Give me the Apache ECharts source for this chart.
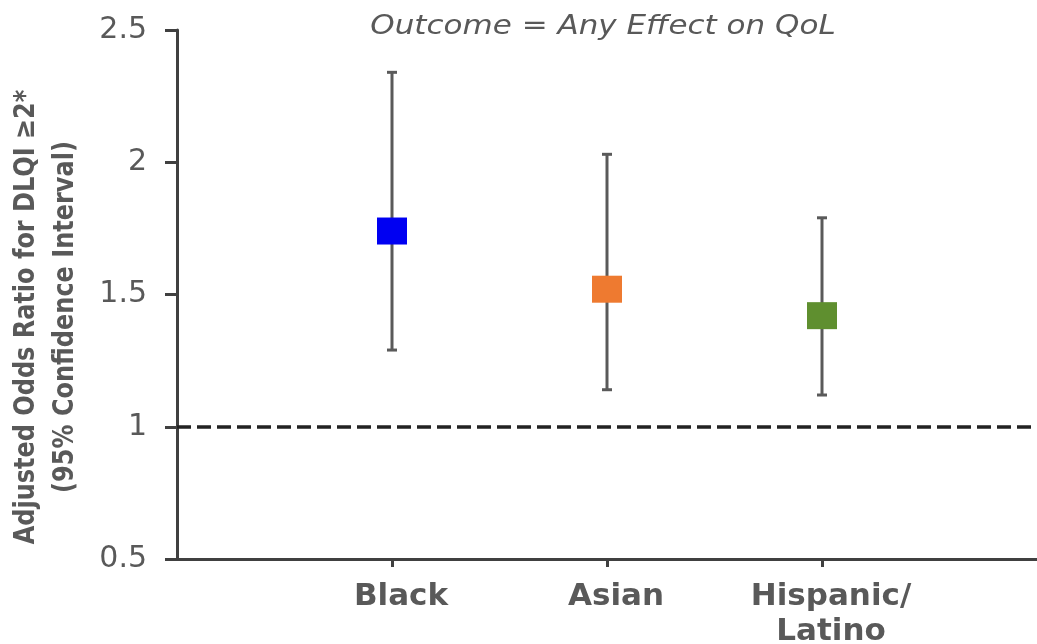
<!DOCTYPE html>
<html>
<head>
<meta charset="utf-8">
<title>Outcome = Any Effect on QoL</title>
<script src="https://cdn.jsdelivr.net/npm/echarts@6/dist/echarts.min.js"></script>
<style>
  html, body { margin: 0; padding: 0; background: #fff; }
  #chart { width: 1037px; height: 644px; }
</style>
</head>
<body>
<div id="chart"></div>
<script>
// groups on the x axis
const categories = ['Black', 'Asian', 'Hispanic/\nLatino']
// adjusted odds ratio and 95% CI
const oddsRatio = [1.74, 1.52, 1.42]
const ciLower = [1.29, 1.14, 1.12]
const ciUpper = [2.34, 2.03, 1.79]
const yTicks = [0.5, 1, 1.5, 2, 2.5]
const refLine = 1

const markerColors = ['#0000f2', '#ee7a30', '#5f8f2f']
const axisColor = '#404040'
const textColor = '#595959'

// empty slots at both ends so the groups sit inside the axis
const axisData = ['', ...categories, '']

const chart = echarts.init(document.getElementById('chart'))

// error bar: vertical line + caps
const renderErrorBar = (params, api) => {
  const top = api.coord([api.value(0), api.value(2)])
  const bottom = api.coord([api.value(0), api.value(1)])
  const cap = 5
  const style = { stroke: '#5a5a5a', lineWidth: 3 }
  return {
    type: 'group',
    children: [
      { type: 'line', shape: { x1: top[0], y1: top[1], x2: bottom[0], y2: bottom[1] }, style },
      { type: 'line', shape: { x1: top[0] - cap, y1: top[1], x2: top[0] + cap, y2: top[1] }, style },
      { type: 'line', shape: { x1: bottom[0] - cap, y1: bottom[1], x2: bottom[0] + cap, y2: bottom[1] }, style },
    ],
  }
}

const option = {
  animation: false,
  backgroundColor: '#fff',
  textStyle: { fontFamily: 'DejaVu Sans' },
  grid: { left: 177, right: 0, top: 30, bottom: 85, outerBoundsMode: 'none' },
  graphic: [
    {
      type: 'text',
      x: 603,
      y: 27,
      scaleY: 0.85,
      style: {
        text: 'Outcome = Any Effect on QoL',
        font: 'italic 31px "DejaVu Sans"',
        fill: textColor,
        textAlign: 'center',
        textVerticalAlign: 'middle',
      },
    },
    {
      type: 'text',
      x: 46,
      y: 317,
      rotation: Math.PI / 2,
      scaleY: 1.2,
      style: {
        text: 'Adjusted Odds Ratio for DLQI ≥2*\n(95% Confidence Interval)',
        font: 'bold 24px "DejaVu Sans"',
        lineHeight: 32,
        fill: textColor,
        textAlign: 'center',
        textVerticalAlign: 'middle',
      },
    },
  ],
  xAxis: {
    type: 'category',
    data: axisData,
    boundaryGap: false,
    axisLine: { lineStyle: { color: axisColor, width: 3 } },
    axisTick: {
      length: 8,
      lineStyle: { color: axisColor, width: 3 },
      interval: (i) => i >= 1 && i <= categories.length,
    },
    axisLabel: {
      interval: 0,
      margin: 20,
      color: textColor,
      fontSize: 31,
      fontWeight: 'bold',
      lineHeight: 35,
      padding: [0, 0, 0, 18],
    },
    splitLine: { show: false },
  },
  yAxis: {
    type: 'value',
    min: yTicks[0],
    max: yTicks[yTicks.length - 1],
    interval: 0.5,
    axisLine: { show: true, lineStyle: { color: axisColor, width: 3 } },
    axisTick: { show: true, length: 12, lineStyle: { color: axisColor, width: 3 } },
    axisLabel: { margin: 30, color: textColor, fontSize: 30 },
    splitLine: { show: false },
  },
  series: [
    {
      type: 'custom',
      renderItem: renderErrorBar,
      data: categories.map((c, i) => [c, ciLower[i], ciUpper[i]]),
      z: 2,
      markLine: {
        silent: true,
        symbol: 'none',
        label: { show: false },
        lineStyle: { color: '#222', width: 3.5, type: [14, 6] },
        data: [{ yAxis: refLine }],
      },
    },
    {
      type: 'scatter',
      symbol: 'rect',
      symbolSize: [30, 27],
      z: 5,
      data: categories.map((c, i) => ({
        value: [c, oddsRatio[i]],
        itemStyle: { color: markerColors[i], opacity: 1 },
      })),
    },
  ],
}

chart.setOption(option)
</script>
</body>
</html>
